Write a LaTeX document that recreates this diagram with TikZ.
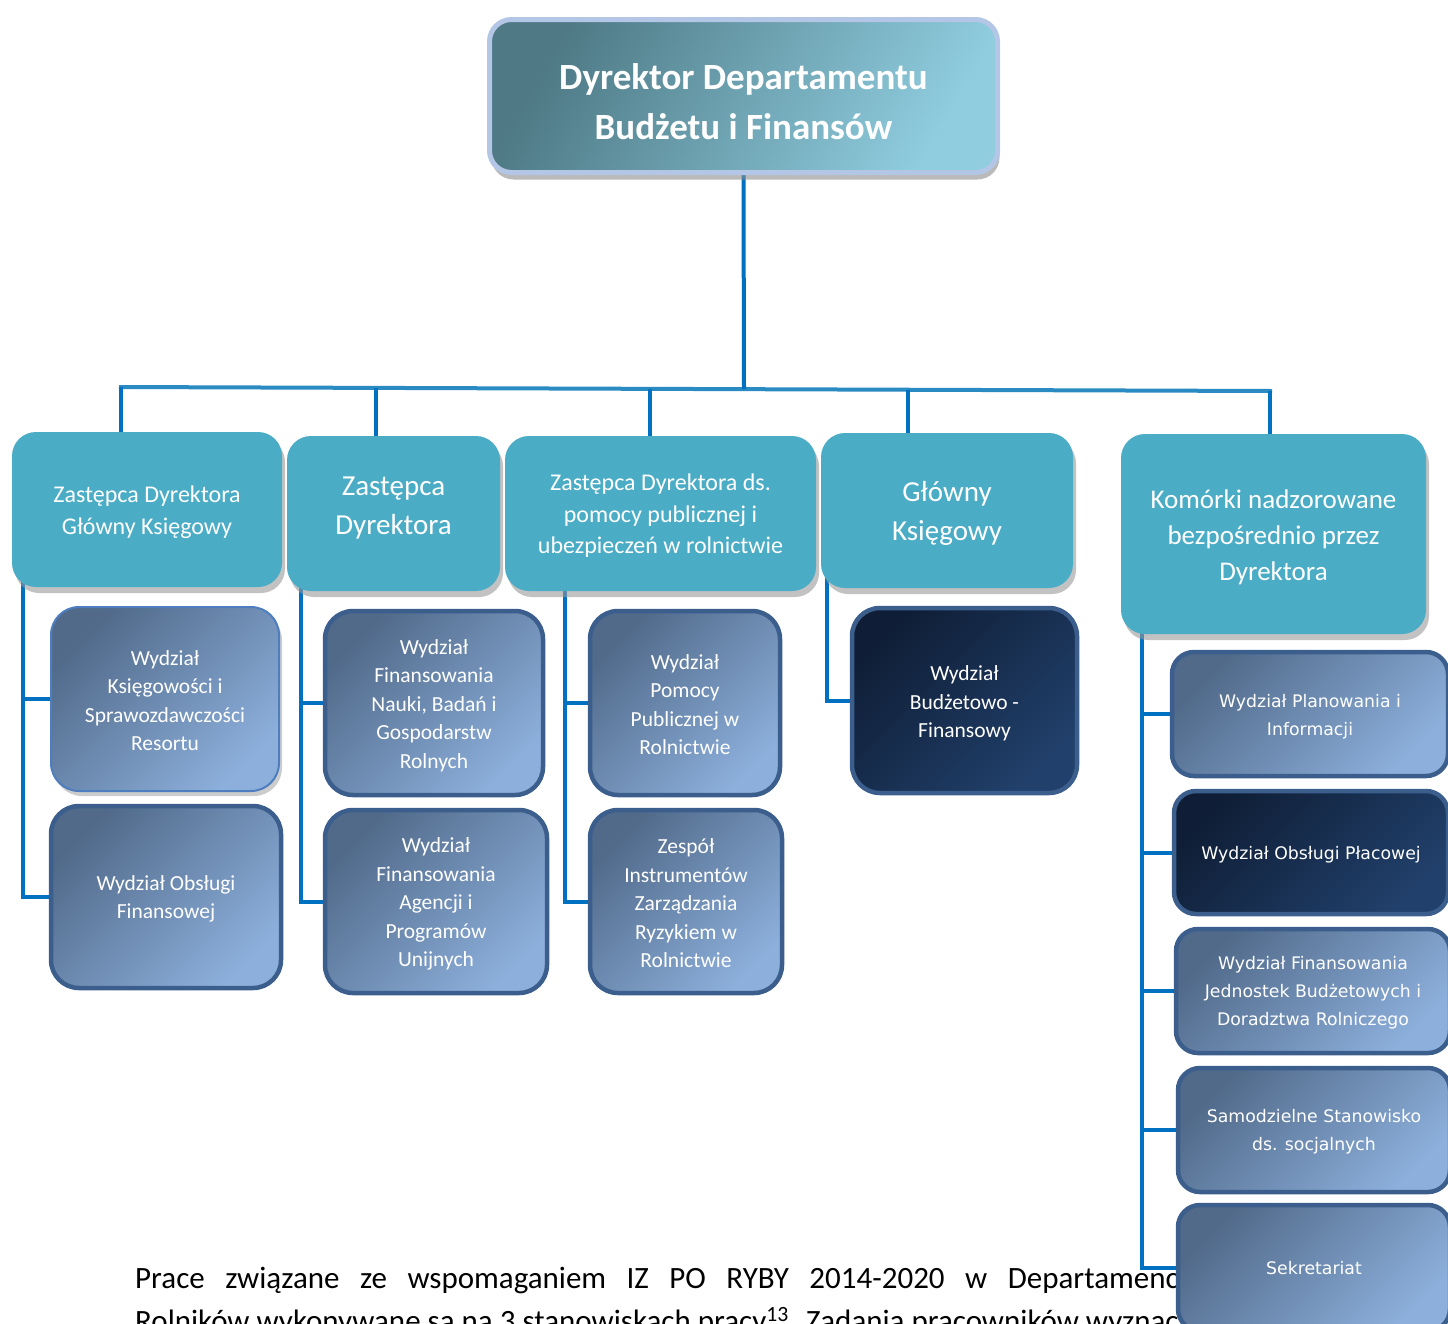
\documentclass[tikz,border=0pt]{standalone}
\usepackage{fontspec}
\setmainfont{Carlito}
\newfontfamily\verd{DejaVu Sans}
\usetikzlibrary{shadows}
\definecolor{l2c}{HTML}{4BACC6}
\definecolor{l3b}{HTML}{3B5E8C}
\definecolor{l3d}{HTML}{516A8A}
\definecolor{l3l}{HTML}{8CAFDB}
\definecolor{dk1}{HTML}{0F1E36}
\definecolor{dk2}{HTML}{21406B}
\definecolor{lc}{HTML}{0070C0}
\definecolor{busc}{HTML}{2A8AC2}
\definecolor{topb}{HTML}{B3C6E5}
\definecolor{topd}{HTML}{4E7985}
\definecolor{topl}{HTML}{8FCDDF}
\definecolor{a1b}{HTML}{4F7EC0}
% first-line strut: pushes a multi-line text down by half of #1
\newcommand\ls[1]{\setbox0\hbox{Dkl}\rule{0pt}{\dimexpr\ht0+#1\relax}}
\pgfdeclarelayer{bg}
\pgfsetlayers{bg,main}
\tikzset{
  conn/.style={draw=lc, line width=4pt},
  busline/.style={draw=busc, line width=4pt},
  topbox/.style={rectangle, rounded corners=22pt, draw=topb, line width=5pt,
    top color=topd, bottom color=topl, shading angle=60, text=white, align=center,
    inner sep=0pt, drop shadow={shadow xshift=2pt, shadow yshift=-7pt, fill=black!45, opacity=0.6},
    font=\bfseries\fontsize{37}{50}\selectfont},
  lvltwo/.style={rectangle, rounded corners=24pt, fill=l2c, text=white, align=center,
    inner sep=0pt, drop shadow={shadow xshift=3pt, shadow yshift=-6pt, fill=black!40, opacity=0.6}},
  smallt/.style={font=\fontsize{24}{31.5}\selectfont},
  bigt/.style={font=\fontsize{29}{38.5}\selectfont},
  lvlthree/.style={rectangle, rounded corners=28pt, draw=l3b, line width=4.5pt,
    top color=l3d, bottom color=l3l, shading angle=45, text=white, align=center,
    inner sep=0pt, font=\fontsize{21.5}{28.5}\selectfont},
  darkbox/.style={lvlthree, top color=dk1, bottom color=dk2, shading angle=45},
  rightbox/.style={lvlthree, rounded corners=22pt, font=\verd\fontsize{17.3}{28}\selectfont},
  rightdark/.style={rightbox, top color=dk1, bottom color=dk2, shading angle=45},
}
\begin{document}
\begin{tikzpicture}[x=1pt,y=-1pt]
\useasboundingbox (0,0) rectangle (1448,1323);
\clip (0,0) rectangle (1448,1323);

% paragraph text behind the right column
\node[anchor=base west, inner sep=0pt, font=\fontsize{31}{40}\selectfont] (p1) at (135,1288)
  {\makebox[1066pt][s]{Prace związane ze wspomaganiem IZ PO RYBY 2014-2020 w Departamencie}};
\node[anchor=base west, inner sep=0pt, font=\fontsize{31}{40}\selectfont] (p2) at (135,1331)
  {Rolników wykonywane są na 3 stanowiskach pracy\textsuperscript{13}. Zadania pracowników wyznaczonych};

% top
\node[topbox, minimum width=508pt, minimum height=153pt] (top) at (743.5,96)
  {\ls{12pt}Dyrektor Departamentu\\Budżetu i Finansów};

% level 2
\node[lvltwo, smallt, minimum width=270pt, minimum height=155pt] (za) at (147,509.5)
  {\ls{5pt}Zastępca Dyrektora\\Główny Księgowy};
\node[lvltwo, bigt, minimum width=213pt, minimum height=155pt] (zb) at (393.5,513.5)
  {Zastępca\\Dyrektora\rule[-16pt]{0pt}{0pt}};
\node[lvltwo, smallt, minimum width=311pt, minimum height=155pt] (zc) at (660.5,513.5)
  {\ls{5pt}Zastępca Dyrektora ds.\\pomocy publicznej i\\ubezpieczeń w rolnictwie};
\node[lvltwo, bigt, minimum width=252pt, minimum height=155pt] (zd) at (947,510.5)
  {\ls{6pt}Główny\\Księgowy};
\node[lvltwo, font=\fontsize{27}{36}\selectfont, minimum width=305pt, minimum height=200pt] (ze) at (1273.5,534)
  {\ls{6pt}Komórki nadzorowane\\bezpośrednio przez\\Dyrektora};

% level 3
\node[lvlthree, draw=a1b, line width=2pt, drop shadow={shadow xshift=3pt, shadow yshift=-5pt, fill=black!40, opacity=0.5},
  minimum width=228pt, minimum height=184pt] (a1) at (165,699)
  {\ls{3pt}Wydział\\Księgowości i\\Sprawozdawczości\\Resortu};
\node[lvlthree, minimum width=230pt, minimum height=182pt] (a2) at (166,897)
  {\ls{4pt}Wydział Obsługi\\Finansowej};
\node[lvlthree, minimum width=218pt, minimum height=184pt] (b1) at (434,703)
  {\ls{5pt}Wydział\\Finansowania\\Nauki, Badań i\\Gospodarstw\\Rolnych};
\node[lvlthree, minimum width=222pt, minimum height=183pt] (b2) at (436,901.5)
  {\ls{5pt}Wydział\\Finansowania\\Agencji i\\Programów\\Unijnych};
\node[lvlthree, minimum width=190pt, minimum height=184pt] (c1) at (685,703)
  {\ls{3pt}Wydział\\Pomocy\\Publicznej w\\Rolnictwie};
\node[lvlthree, minimum width=192pt, minimum height=183pt] (c2) at (686,901.5)
  {\ls{4pt}Zespół\\Instrumentów\\Zarządzania\\Ryzykiem w\\Rolnictwie};
\node[darkbox, minimum width=225pt, minimum height=185pt] (d1) at (964.5,700.5)
  {\ls{6pt}Wydział\\Budżetowo -\\Finansowy};

\node[rightbox, minimum width=276pt, minimum height=124pt] (e1) at (1310,714)
  {\ls{6pt}Wydział Planowania i\\Informacji};
\node[rightdark, minimum width=274pt, minimum height=123pt] (e2) at (1311,852.5)
  {\ls{4pt}Wydział Obsługi Płacowej};
\node[rightbox, minimum width=274pt, minimum height=124pt] (e3) at (1313,991)
  {\ls{4pt}Wydział Finansowania\\Jednostek Budżetowych i\\Doradztwa Rolniczego};
\node[rightbox, minimum width=272pt, minimum height=124pt] (e4) at (1314,1130)
  {\ls{4pt}Samodzielne Stanowisko\\ds. socjalnych};
\node[rightbox, minimum width=272pt, minimum height=126pt] (e5) at (1314,1268)
  {Sekretariat};

% connectors
\coordinate (bl) at (119,387);
\coordinate (br) at (1272,391);
\coordinate (bm) at (744,389);
\coordinate (j1) at (121,387);
\coordinate (j2) at (376,388);
\coordinate (j3) at (650,389);
\coordinate (j4) at (908,390);
\coordinate (j5) at (1270,391);
\coordinate (k1) at (23,575);
\coordinate (k2) at (301,580);
\coordinate (k3) at (565,580);
\coordinate (k4) at (827,575);
\coordinate (k5) at (1142,620);
\begin{pgfonlayer}{bg}
  \draw[busline] (bl) -- (br);
  \draw[conn] (top.south) -- (bm);
  \draw[conn] (j1) -- (j1 |- za.north);
  \draw[conn] (j2) -- (j2 |- zb.north);
  \draw[conn] (j3) -- (j3 |- zc.north);
  \draw[conn] (j4) -- (j4 |- zd.north);
  \draw[conn] (j5) -- (j5 |- ze.north);
  \draw[conn] (k1) |- (a1.west);
  \draw[conn] (k1) |- (a2.west);
  \draw[conn] (k2) |- (b1.west);
  \draw[conn] (k2) |- (b2.west);
  \draw[conn] (k3) |- (c1.west);
  \draw[conn] (k3) |- (c2.west);
  \draw[conn] (k4) |- (d1.west);
  \draw[conn] (k5) |- (e1.west);
  \draw[conn] (k5) |- (e2.west);
  \draw[conn] (k5) |- (e3.west);
  \draw[conn] (k5) |- (e4.west);
  \draw[conn] (k5) |- (e5.west);
\end{pgfonlayer}
\end{tikzpicture}
\end{document}
